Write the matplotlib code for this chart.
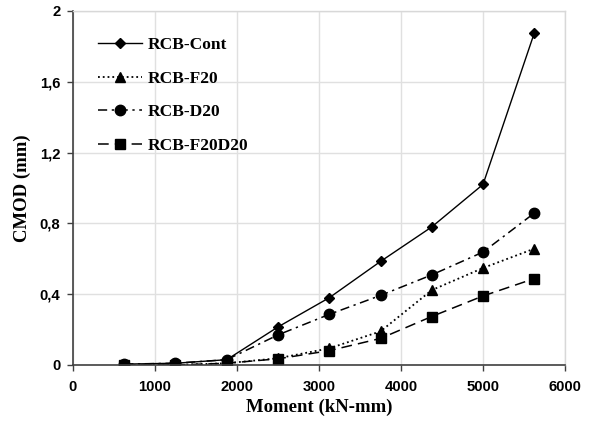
import matplotlib
matplotlib.use('Agg')
import matplotlib.pyplot as plt

# data
moment = [625, 1250, 1875, 2500, 3125, 3750, 4375, 5000, 5625]
cmod_cont = [0.005, 0.01, 0.03, 0.215, 0.38, 0.585, 0.78, 1.02, 1.875]
cmod_f20 = [0.0, 0.0, 0.01, 0.038, 0.094, 0.19, 0.423, 0.548, 0.657]
cmod_d20 = [0.005, 0.01, 0.03, 0.17, 0.286, 0.393, 0.509, 0.638, 0.858]
cmod_f20d20 = [0.0, 0.0, 0.01, 0.035, 0.081, 0.15, 0.274, 0.39, 0.488]

x_ticks = [0, 1000, 2000, 3000, 4000, 5000, 6000]
y_ticks = [0, 0.4, 0.8, 1.2, 1.6, 2.0]
y_tick_labels = ['0', '0,4', '0,8', '1,2', '1,6', '2']

fig = plt.figure(figsize=(5.92, 4.28), dpi=100)
ax = fig.add_axes([0.1233, 0.1472, 0.8311, 0.8271])

ax.plot(moment, cmod_cont, color='black', linestyle='-', linewidth=1,
        marker='D', markersize=5.5, label='RCB-Cont')
ax.plot(moment, cmod_f20, color='black', linestyle=':', linewidth=1.3,
        marker='^', markersize=7.5, label='RCB-F20')
ax.plot(moment, cmod_d20, color='black', linestyle=(0, (6, 3, 1.5, 3)), linewidth=1.1,
        marker='o', markersize=7.5, label='RCB-D20')
ax.plot(moment, cmod_f20d20, color='black', linestyle=(0, (7, 4)), linewidth=1.1,
        marker='s', markersize=6.5, label='RCB-F20D20')

ax.set_xlim(0, 6000)
ax.set_ylim(0, 2)
ax.set_xticks(x_ticks)
ax.set_xticklabels([str(t) for t in x_ticks])
ax.set_yticks(y_ticks)
ax.set_yticklabels(y_tick_labels)

for lab in ax.get_xticklabels() + ax.get_yticklabels():
    lab.set_fontfamily('Liberation Sans')
    lab.set_fontweight('bold')
    lab.set_fontsize(10.7)

ax.tick_params(axis='x', direction='out', length=4, width=1, color='#404040', pad=7)
ax.tick_params(axis='y', direction='out', length=4, width=1, color='#404040', pad=5)
ax.grid(True, color='#e0e0e0', linewidth=1)
ax.set_axisbelow(True)

for side in ['left', 'bottom']:
    ax.spines[side].set_color('#404040')
    ax.spines[side].set_linewidth(1.2)
for side in ['top', 'right']:
    ax.spines[side].set_color('#d8d8d8')
    ax.spines[side].set_linewidth(1)

ax.set_xlabel('Moment (kN-mm)', fontfamily='Liberation Serif', fontweight='bold',
              fontsize=13.5, labelpad=3)
ax.set_ylabel('CMOD (mm)', fontfamily='Liberation Serif', fontweight='bold',
              fontsize=13.5, labelpad=6)

leg = ax.legend(loc='upper left', bbox_to_anchor=(0.02, 0.97), frameon=False,
                numpoints=1, handlelength=2.5, handletextpad=0.35, labelspacing=1.0,
                prop={'family': 'Liberation Serif', 'weight': 'bold', 'size': 12.5})

fig.savefig('out.png', dpi=100)
